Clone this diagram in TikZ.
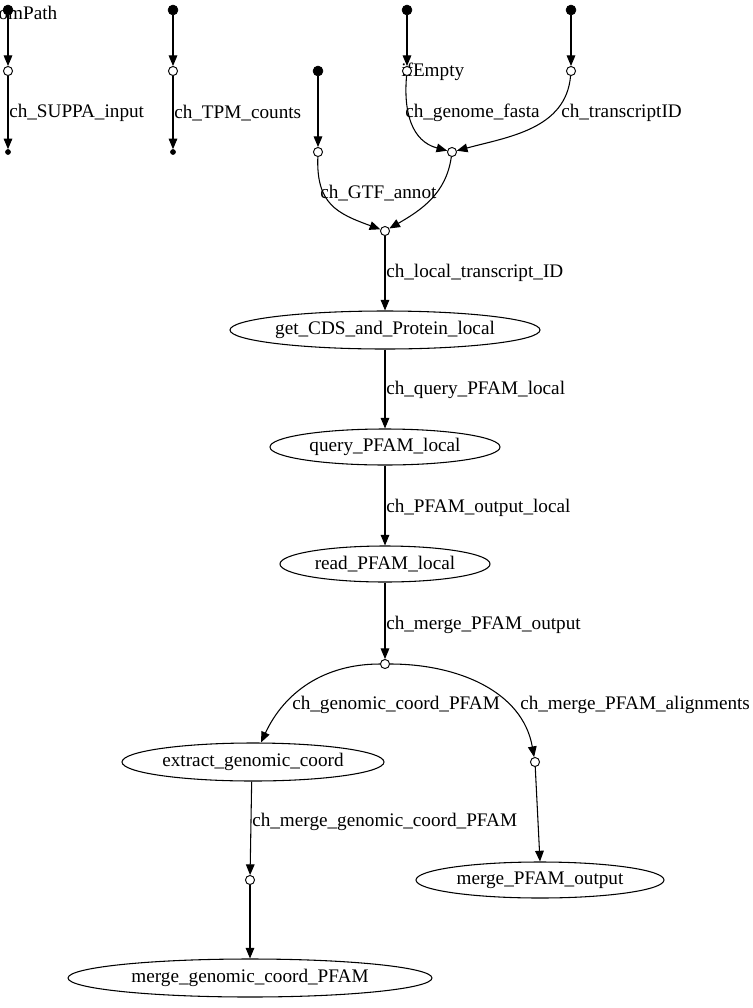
\documentclass[tikz,border=0pt]{standalone}
\usepackage{fontspec}
\setmainfont{Liberation Serif}
\usetikzlibrary{arrows.meta,shapes.geometric}
\begin{document}
\begin{tikzpicture}[x=0.75pt,y=-0.75pt,
  font=\fontsize{14.4}{16}\selectfont,
  src/.style={circle,fill=black,draw=black,inner sep=0,minimum size=7.5pt},
  op/.style={circle,fill=white,draw=black,line width=0.7pt,inner sep=0,minimum size=6.8pt},
  sink/.style={circle,fill=black,draw=black,inner sep=0,minimum size=3.8pt},
  proc/.style={ellipse,draw=black,line width=0.8pt,inner sep=0},
  lbl/.style={anchor=west,inner sep=0},
  edge/.style={draw=black,line width=0.8pt,-{Triangle[length=8pt,width=6.5pt]}},
]
\useasboundingbox (0,0) rectangle (753,1008);
\clip (0,0) rectangle (753,1008);
% external labels
\node[lbl,anchor=east] (lfp) at (57.5,13) {fromPath};
\node[lbl] (lie) at (401,72) {ifEmpty};
% source points
\node[src] (s1) at (8,10) {};
\node[src] (s2) at (173,10) {};
\node[src] (s3) at (407,10) {};
\node[src] (s4) at (571,10) {};
\node[src] (s5) at (318,71) {};
% operator circles
\node[op] (o1) at (8,71) {};
\node[op] (o2) at (173,71) {};
\node[op] (o3) at (407,71) {};
\node[op] (o4) at (571,71) {};
\node[op] (o5) at (318,152) {};
\node[op] (o6) at (452,152) {};
\node[op] (o7) at (385,231) {};
\node[op] (o8) at (385,664) {};
\node[op] (o9) at (535,762) {};
\node[op] (o10) at (250,880) {};
% sinks
\node[sink] (k1) at (8,152) {};
\node[sink] (k2) at (173,152) {};
% processes
\node[proc,minimum width=232.5pt,minimum height=28.5pt,label={center:get\_CDS\_and\_Protein\_local}] (cds) at (385,330) {};
\node[proc,minimum width=172.5pt,minimum height=27pt,label={center:query\_PFAM\_local}] (qry) at (385,447) {};
\node[proc,minimum width=157.5pt,minimum height=27pt,label={center:read\_PFAM\_local}] (rd) at (385,564) {};
\node[proc,minimum width=196.5pt,minimum height=28.5pt,label={center:extract\_genomic\_coord}] (ext) at (253,762) {};
\node[proc,minimum width=186pt,minimum height=27pt,label={center:merge\_PFAM\_output}] (mpo) at (540,880) {};
\node[proc,minimum width=273pt,minimum height=28.5pt,label={center:merge\_genomic\_coord\_PFAM}] (mgc) at (250,978) {};
% edges
\draw[edge] (s1) -- (o1);
\draw[edge] (o1) -- (k1);
\draw[edge] (s2) -- (o2);
\draw[edge] (o2) -- (k2);
\draw[edge] (s3) -- (o3);
\draw[edge] (s4) -- (o4);
\draw[edge] (s5) -- (o5);
\draw[edge] (o3) to[out=265,in=165,looseness=1.1] (o6);
\draw[edge] (o4) to[out=265,in=15] (o6);
\draw[edge] (o5) to[out=268,in=160,looseness=1.25] (o7);
\draw[edge] (o6) to[out=262,in=30] (o7);
\draw[edge] (o7) -- (cds);
\draw[edge] (cds) -- (qry);
\draw[edge] (qry) -- (rd);
\draw[edge] (rd) -- (o8);
\draw[edge] (o8) to[out=180,in=65] ([xshift=6]ext.north);
\draw[edge] (o8) to[out=0,in=100] (o9);
\draw[edge] ([xshift=-1]ext.south) -- (o10);
\draw[edge] (o9) -- (mpo.north);
\draw[edge] (o10) -- (mgc.north);
% edge labels
\node[lbl] (e1) at (9,113) {ch\_SUPPA\_input};
\node[lbl] (e2) at (174,113) {ch\_TPM\_counts};
\node[lbl] (e3) at (405,113) {ch\_genome\_fasta};
\node[lbl] (e4) at (561,113) {ch\_transcriptID};
\node[lbl] (e5) at (320,193) {ch\_GTF\_annot};
\node[lbl] (e6) at (386,273) {ch\_local\_transcript\_ID};
\node[lbl] (e7) at (386,390) {ch\_query\_PFAM\_local};
\node[lbl] (e8) at (386,508) {ch\_PFAM\_output\_local};
\node[lbl] (e9) at (386,625) {ch\_merge\_PFAM\_output};
\node[lbl] (e10) at (292,705) {ch\_genomic\_coord\_PFAM};
\node[lbl] (e11) at (520,705) {ch\_merge\_PFAM\_alignments};
\node[lbl] (e12) at (252,822) {ch\_merge\_genomic\_coord\_PFAM};
\end{tikzpicture}
\end{document}
